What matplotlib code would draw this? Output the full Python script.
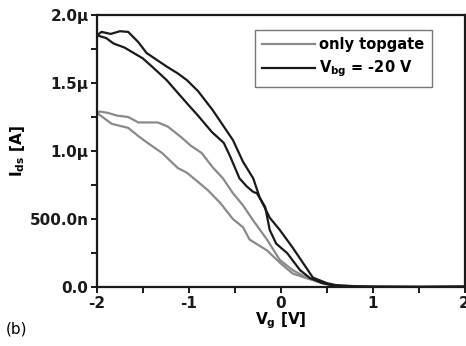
import matplotlib
matplotlib.use("Agg")
import matplotlib.pyplot as plt
import numpy as np

plt.rcParams["font.family"] = ["DejaVu Sans"]
plt.rcParams["font.weight"] = "bold"
plt.rcParams["axes.labelweight"] = "bold"
plt.rcParams["mathtext.fontset"] = "custom"
plt.rcParams["mathtext.rm"] = "DejaVu Sans:bold"
plt.rcParams["mathtext.it"] = "DejaVu Sans:bold"
plt.rcParams["mathtext.bf"] = "DejaVu Sans:bold"

# gate sweep, currents in uA
bg_up_vg = [-2.0, -1.95, -1.85, -1.75, -1.66, -1.55, -1.46, -1.35, -1.24, -1.12,
            -1.02, -0.90, -0.74, -0.59, -0.52, -0.41, -0.30, -0.23, -0.12, -0.01,
            0.13, 0.24, 0.35, 0.50, 0.60, 0.80, 1.0, 1.5, 2.0]
bg_up_ids = [1.85, 1.875, 1.86, 1.88, 1.875, 1.80, 1.72, 1.67, 1.62, 1.57,
             1.52, 1.44, 1.30, 1.15, 1.08, 0.92, 0.80, 0.66, 0.51, 0.42,
             0.29, 0.18, 0.07, 0.03, 0.015, 0.006, 0.003, 0.002, 0.004]

bg_dn_vg = [-2.0, -1.90, -1.82, -1.70, -1.60, -1.50, -1.40, -1.24, -1.15, -1.02,
            -0.90, -0.75, -0.62, -0.55, -0.45, -0.37, -0.30, -0.26, -0.17, -0.12,
            -0.05, 0.07, 0.21, 0.32, 0.45, 0.55, 0.70, 1.0, 1.5, 2.0]
bg_dn_ids = [1.85, 1.83, 1.79, 1.76, 1.72, 1.68, 1.62, 1.52, 1.45, 1.35,
             1.26, 1.14, 1.06, 0.96, 0.80, 0.74, 0.70, 0.69, 0.59, 0.42,
             0.32, 0.25, 0.125, 0.066, 0.03, 0.015, 0.006, 0.003, 0.002, 0.004]

tg_up_vg = [-2.0, -1.97, -1.88, -1.78, -1.66, -1.55, -1.45, -1.34, -1.23, -1.08,
            -0.98, -0.86, -0.74, -0.63, -0.52, -0.41, -0.30, -0.15, -0.01, 0.13,
            0.28, 0.45, 0.60, 1.0, 1.5, 2.0]
tg_up_ids = [1.28, 1.29, 1.28, 1.26, 1.25, 1.21, 1.21, 1.21, 1.18, 1.10,
             1.04, 0.985, 0.88, 0.80, 0.69, 0.60, 0.49, 0.35, 0.20, 0.125,
             0.07, 0.03, 0.012, 0.004, 0.002, 0.003]

tg_dn_vg = [-2.0, -1.92, -1.84, -1.66, -1.55, -1.45, -1.29, -1.12, -1.02, -0.93,
            -0.79, -0.66, -0.52, -0.41, -0.34, -0.15, -0.01, 0.13, 0.28, 0.46,
            0.60, 1.0, 1.5, 2.0]
tg_dn_ids = [1.28, 1.24, 1.20, 1.17, 1.11, 1.06, 0.985, 0.875, 0.84, 0.79,
             0.71, 0.62, 0.50, 0.44, 0.35, 0.27, 0.18, 0.10, 0.066, 0.03,
             0.012, 0.004, 0.002, 0.003]

y_ticks = [0.0, 0.5e-6, 1.0e-6, 1.5e-6, 2.0e-6]
y_labels = ["0.0", "500.0n", "1.0\u00b5", "1.5\u00b5", "2.0\u00b5"]
x_ticks = [-2, -1, 0, 1, 2]

GRAY = "#8a8a8a"
BLACK = "#1a1a1a"

fig = plt.figure(figsize=(4.66, 3.46), dpi=100)
ax = fig.add_axes([0.208, 0.170, 0.789, 0.787])

ua = 1e-6
ax.plot(tg_up_vg, np.array(tg_up_ids) * ua, color=GRAY, lw=1.6, label="only topgate")
ax.plot(tg_dn_vg, np.array(tg_dn_ids) * ua, color=GRAY, lw=1.6)
ax.plot(bg_up_vg, np.array(bg_up_ids) * ua, color=BLACK, lw=1.6,
        label=r"$V_{bg}$ = -20 V")
ax.plot(bg_dn_vg, np.array(bg_dn_ids) * ua, color=BLACK, lw=1.6)

ax.set_xlim(-2, 2)
ax.set_ylim(0, 2.0e-6)
ax.set_xticks(x_ticks)
ax.set_xticklabels([str(v) for v in x_ticks])
ax.set_xticks([-1.5, -0.5, 0.5, 1.5], minor=True)
ax.set_yticks(y_ticks)
ax.set_yticklabels(y_labels)
ax.set_yticks([0.25e-6, 0.75e-6, 1.25e-6, 1.75e-6], minor=True)

for s in ax.spines.values():
    s.set_linewidth(1.6)
    s.set_color(BLACK)
ax.tick_params(which="both", direction="out", width=1.4, length=4, labelsize=11,
               colors=BLACK, pad=2)

ax.set_xlabel(r"$V_g$ [V]", fontsize=11, labelpad=0)
ax.set_ylabel(r"$I_{ds}$ [A]", fontsize=11, labelpad=2)

leg = ax.legend(loc="upper right", bbox_to_anchor=(0.91, 0.945), fontsize=10.5,
                frameon=True, fancybox=False, handlelength=3.6, handletextpad=0.3,
                borderpad=0.5, labelspacing=0.45, borderaxespad=0)
leg.get_frame().set_edgecolor("#555555")
leg.get_frame().set_linewidth(1.0)

fig.text(0.012, 0.035, "(b)", fontsize=11, fontweight="normal")

fig.savefig("out.png", dpi=100)
